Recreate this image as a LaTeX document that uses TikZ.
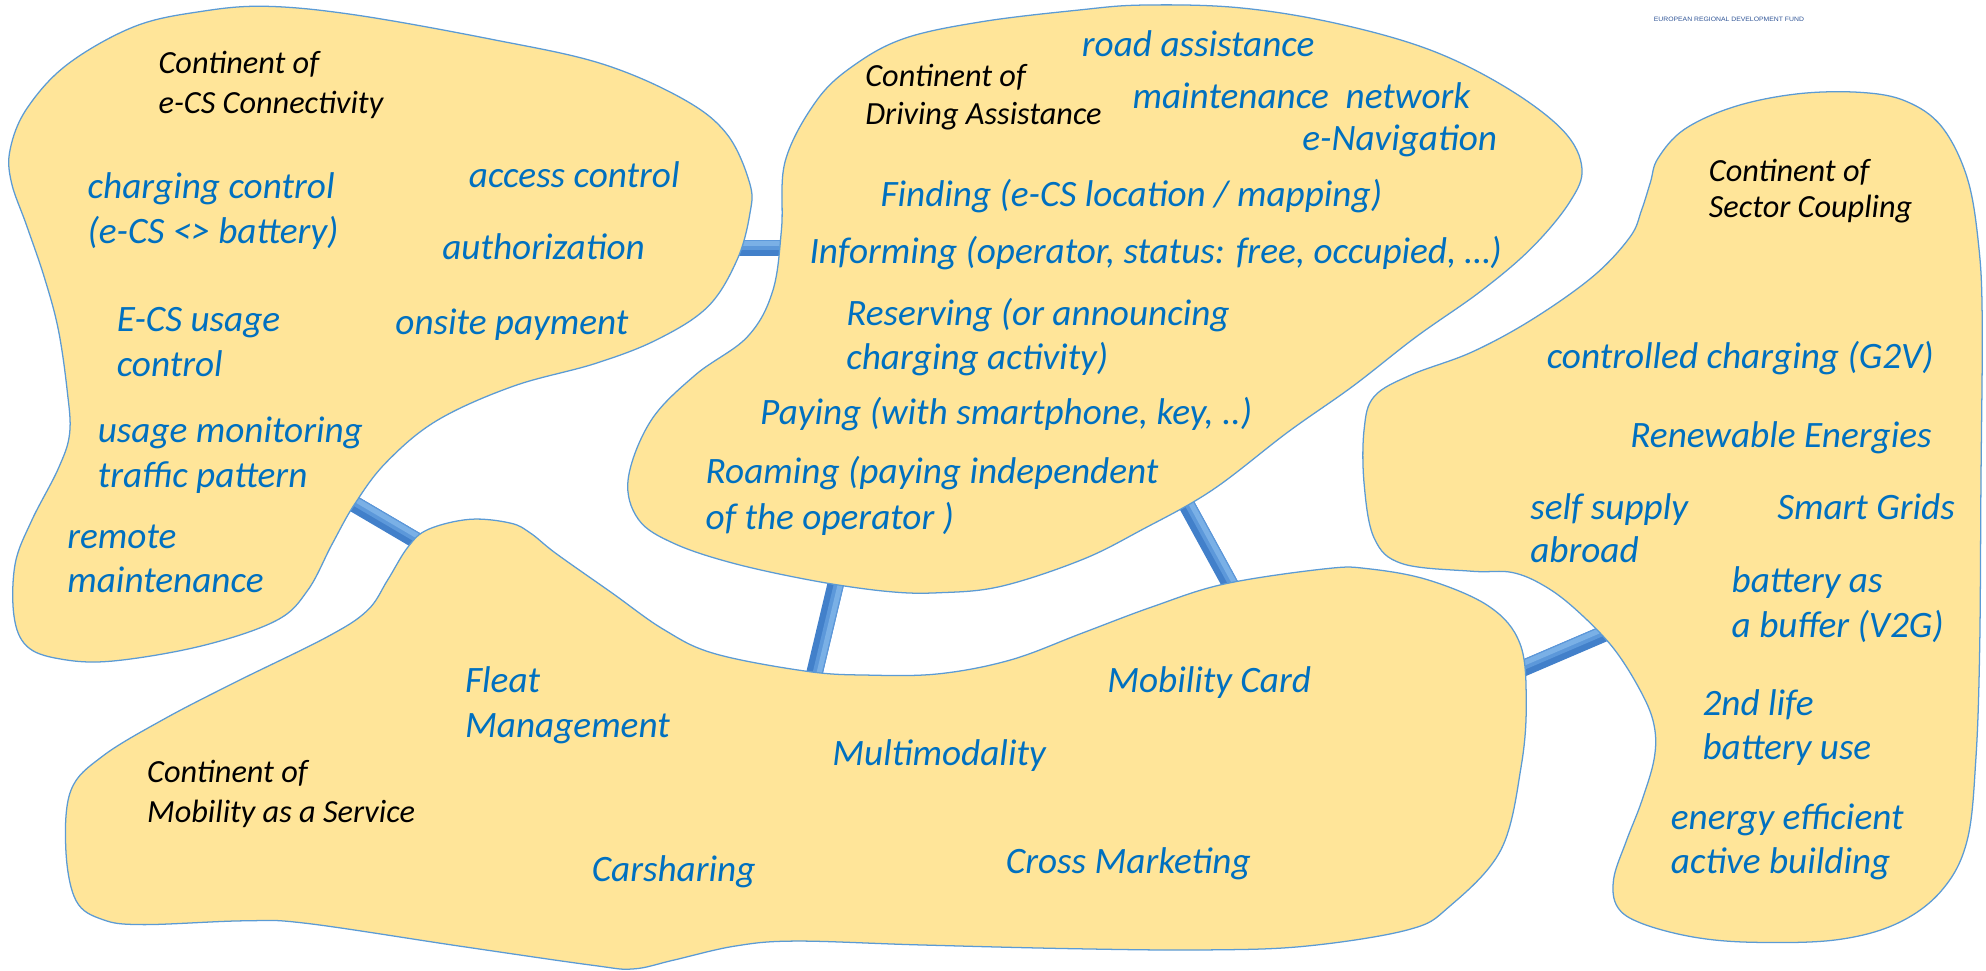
\documentclass[tikz,border=0pt]{standalone}
\usepackage{fontspec}
\usetikzlibrary{calc}
\setmainfont{Carlito}
\newfontfamily\eufont{Liberation Sans}
\definecolor{blobfill}{RGB}{255,229,153}
\definecolor{blobline}{RGB}{91,155,213}
\definecolor{bridgedark}{RGB}{66,128,202}
\definecolor{bridgemid}{RGB}{92,152,218}
\definecolor{bridgelight}{RGB}{122,176,230}
\definecolor{txtblue}{RGB}{0,112,192}
\definecolor{eublue}{RGB}{47,84,150}
\begin{document}
\begin{tikzpicture}[x=1pt,y=-1pt,
  blob/.style={fill=blobfill, draw=blobline, line width=1pt},
  bridge/.style={line width=13pt, draw=bridgedark},
  bridgemidline/.style={line width=8pt, draw=bridgemid},
  bridgehi/.style={line width=4pt, draw=bridgelight},
  itm/.style={anchor=base west, inner sep=0pt, text=txtblue, font=\fontsize{29.4}{35}\selectfont\itshape},
  ttl/.style={anchor=base west, inner sep=0pt, text=black, font=\fontsize{25.5}{30}\selectfont\itshape}]
\useasboundingbox (0,0) rectangle (1568,766);

% bridge end points
\coordinate (b1a) at (575,196);  \coordinate (b1b) at (630,196);
\coordinate (b2a) at (273,394);  \coordinate (b2b) at (336,431);
\coordinate (b3a) at (662,452);  \coordinate (b3b) at (641,540);
\coordinate (b4a) at (930,386);  \coordinate (b4b) at (976,470);
\coordinate (b5a) at (1190,533); \coordinate (b5b) at (1274,497);
\foreach \a/\b in {b1a/b1b,b2a/b2b,b3a/b3b,b4a/b4b,b5a/b5b}{
  \draw[bridge] (\a) -- (\b);
  \draw[bridgemidline] ($(\a)!2.5pt!90:(\b)$) -- ($(\b)!2.5pt!-90:(\a)$);
  \draw[bridgehi] ($(\a)!3.5pt!90:(\b)$) -- ($(\b)!3.5pt!-90:(\a)$);
}

% Continent of e-CS Connectivity
\draw[blob] plot[smooth cycle, tension=0.6] coordinates {
 (106,21) (159,9) (211,5) (282,12) (388,31) (474,50) (539,78) (574,106) (592,145)
 (592,169) (582,205) (559,242) (519,268) (470,287) (405,305) (345,332) (305,365)
 (280,398) (262,430) (243,466) (218,490) (159,510) (88,522) (46,520) (21,510)
 (11,486) (12,445) (25,411) (46,370) (55,342) (53,308) (46,260) (35,219) (21,178)
 (9,144) (8,118) (21,86) (53,51)};

% Continent of Driving Assistance
\draw[blob] plot[smooth cycle, tension=0.6] coordinates {
 (620,127) (645,79) (675,51) (715,30) (776,17) (851,8) (902,4) (977,6) (1053,18)
 (1128,39) (1189,69) (1234,103) (1249,133) (1239,160) (1209,196) (1169,230)
 (1118,266) (1068,305) (1017,341) (957,387) (902,418) (854,442) (790,463) (741,468)
 (701,467) (645,459) (580,445) (532,429) (504,410) (496,378) (514,332) (549,296)
 (590,266) (610,230) (617,181)};

% Continent of Sector Coupling
\draw[blob] plot[smooth cycle, tension=0.6] coordinates {
 (1303,144) (1309,125) (1330,102) (1370,84) (1420,74) (1470,73) (1505,80) (1533,100)
 (1553,140) (1562,192) (1565,252) (1564,382) (1563,512) (1560,599) (1553,664)
 (1533,703) (1498,729) (1450,742) (1386,744) (1338,740) (1296,729) (1277,716)
 (1274,694) (1284,664) (1296,633) (1306,599) (1306,573) (1296,547) (1274,512)
 (1245,482) (1220,463) (1194,452) (1162,451) (1107,445) (1085,425) (1077,382)
 (1077,339) (1085,313) (1114,296) (1162,278) (1210,252) (1258,218) (1287,187)
 (1296,166)};

% Continent of Mobility as a Service
\draw[blob] plot[smooth cycle, tension=0.6] coordinates {
 (322,432) (338,418) (371,410) (403,413) (419,421) (439,437) (483,468) (524,497)
 (564,516) (637,530) (685,533) (741,532) (798,521) (854,500) (910,479) (967,461)
 (1047,449) (1080,449) (1128,458) (1176,479) (1200,508) (1205,553) (1201,605)
 (1185,671) (1144,716) (1112,734) (1031,747) (951,750) (846,749) (725,746)
 (628,743) (580,747) (532,758) (500,765) (467,762) (363,747) (242,729) (193,727)
 (113,730) (81,726) (60,711) (52,671) (56,624) (81,597) (129,568) (185,539)
 (258,503) (290,482) (306,458)};

% header
\node[anchor=center, inner sep=0pt, text=eublue, font=\eufont\fontsize{5}{6}\selectfont, xscale=1.08]
  (eu) at (1365,15) {EUROPEAN REGIONAL DEVELOPMENT FUND};

% e-CS Connectivity texts
\node[ttl] (c1a) at (125,58) {Continent of};
\node[ttl] (c1b) at (125,90) {e-CS Connectivity};
\node[itm] (l1) at (69,157) {charging control};
\node[itm] (l2) at (69,192) {(e-CS <> battery)};
\node[itm] (l3) at (370,148) {access control};
\node[itm] (l4) at (349,205) {authorization};
\node[itm] (l5) at (92,262) {E-CS usage};
\node[itm] (l6) at (92,297) {control};
\node[itm] (l7) at (312,264) {onsite payment};
\node[itm] (l8) at (77,349) {usage monitoring};
\node[itm] (l9) at (77,385) {traffic pattern};
\node[itm] (l10) at (53,433) {remote};
\node[itm] (l11) at (53,468) {maintenance};

% Driving Assistance texts
\node[ttl] (c2a) at (683,68) {Continent of};
\node[ttl] (c2b) at (683,98) {Driving Assistance};
\node[itm] (m1) at (854,45) {road assistance};
\node[itm] (m2) at (894,86) {maintenance\ \ network};
\node[itm] (m3) at (1028,119) {e-Navigation};
\node[itm] (m4) at (695,163) {Finding (e-CS location / mapping)};
\node[itm] (m5) at (639,208) {Informing (operator, status: free, occupied, …)};
\node[itm] (m6) at (668,257) {Reserving (or announcing};
\node[itm] (m7) at (668,292) {charging activity)};
\node[itm] (m8) at (600,335) {Paying (with smartphone, key, ..)};
\node[itm] (m9) at (557,382) {Roaming (paying independent};
\node[itm] (m10) at (557,418) {of the operator )};

% Sector Coupling texts
\node[ttl] (c3a) at (1349,143) {Continent of};
\node[ttl] (c3b) at (1349,172) {Sector Coupling};
\node[itm] (r1) at (1221,291) {controlled charging (G2V)};
\node[itm] (r2) at (1287,353) {Renewable Energies};
\node[itm] (r3) at (1208,410) {self supply};
\node[itm] (r4) at (1208,444) {abroad};
\node[itm] (r5) at (1403,410) {Smart Grids};
\node[itm] (r6) at (1367,468) {battery as};
\node[itm] (r7) at (1367,503) {a buffer (V2G)};
\node[itm] (r8) at (1344,565) {2nd life};
\node[itm] (r9) at (1344,600) {battery use};
\node[itm] (r10) at (1319,655) {energy efficient};
\node[itm] (r11) at (1319,690) {active building};

% Mobility as a Service texts
\node[ttl] (c4a) at (116,618) {Continent of};
\node[ttl] (c4b) at (116,649) {Mobility as a Service};
\node[itm] (s1) at (367,547) {Fleat};
\node[itm] (s2) at (367,582) {Management};
\node[itm] (s3) at (657,604) {Multimodality};
\node[itm] (s4) at (874,547) {Mobility Card};
\node[itm] (s5) at (467,696) {Carsharing};
\node[itm] (s6) at (794,690) {Cross Marketing};
\end{tikzpicture}
\end{document}
